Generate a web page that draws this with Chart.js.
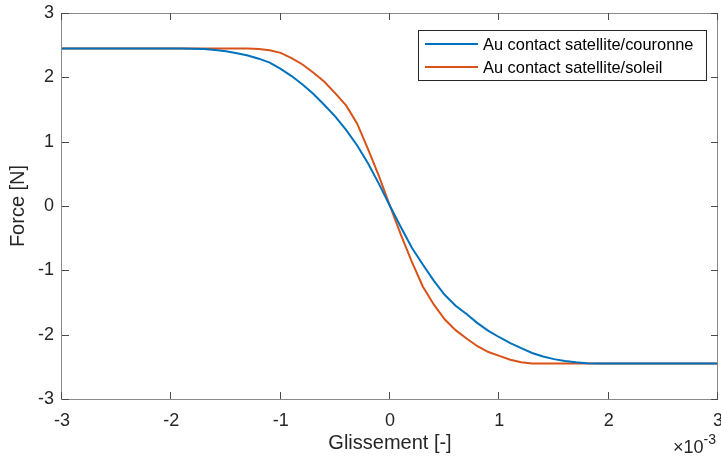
<!DOCTYPE html>
<html><head><meta charset="utf-8">
<script src="https://cdn.jsdelivr.net/npm/chart.js@4/dist/chart.umd.min.js"></script>
<style>html,body{margin:0;padding:0;background:#fff;overflow:hidden}#wrap{width:721px;height:456px}</style>
</head><body><div id="wrap"><canvas id="c" width="721" height="456"></canvas></div>
<script>
// Glissement, in units of 10^-3
const slip = [-3,-2.5,-2,-1.9,-1.8,-1.7,-1.6,-1.5,-1.4,-1.3,-1.2,-1.1,-1,-0.9,-0.8,-0.7,-0.6,-0.5,-0.4,-0.3,-0.2,-0.1,0,
  0.1,0.2,0.3,0.4,0.5,0.6,0.7,0.8,0.9,1,1.1,1.2,1.3,1.4,1.5,1.6,1.7,1.8,1.9,2,2.5,3];
const forceCouronne = [2.45,2.45,2.45,2.45,2.445,2.44,2.425,2.405,2.375,2.34,2.29,2.23,2.13,2.02,1.89,1.74,1.57,1.39,1.18,0.94,0.66,0.34,0,
  -0.33,-0.65,-0.91,-1.16,-1.38,-1.55,-1.68,-1.82,-1.94,-2.04,-2.13,-2.21,-2.285,-2.34,-2.38,-2.41,-2.43,-2.445,-2.45,-2.45,-2.45,-2.45];
const forceSoleil = [2.45,2.45,2.45,2.45,2.45,2.45,2.45,2.45,2.45,2.448,2.44,2.42,2.38,2.30,2.20,2.07,1.93,1.75,1.56,1.28,0.88,0.46,0,
  -0.45,-0.87,-1.25,-1.53,-1.76,-1.93,-2.06,-2.18,-2.27,-2.33,-2.39,-2.43,-2.45,-2.45,-2.45,-2.45,-2.45,-2.45,-2.45,-2.45,-2.45,-2.45];
const seriesLabels = ['Au contact satellite/couronne','Au contact satellite/soleil'];
const seriesColors = ['#0072BD','#D95319'];
const xTicks = [-3,-2,-1,0,1,2,3];
const yTicks = [-3,-2,-1,0,1,2,3];
const xTitle = 'Glissement [-]';
const yTitle = 'Force [N]';
const xExponent = '-3';

const FONT = '"Liberation Sans", Arial, Helvetica, sans-serif';
const AX = '#262626';

const matlabPlugin = {
  id: 'matlab',
  afterDraw(chart) {
    const ctx = chart.ctx, a = chart.chartArea;
    const xs = chart.scales.x, ys = chart.scales.y;
    ctx.save();
    // box
    ctx.strokeStyle = '#8a8a8a';
    ctx.lineWidth = 1;
    ctx.strokeRect(a.left - 0.5, a.top + 0.5, a.right - a.left, a.bottom - a.top);
    // inward ticks on all sides
    const tl = 7;
    ctx.strokeStyle = '#4a4a4a';
    ctx.beginPath();
    xTicks.forEach(v => {
      const px = Math.round(xs.getPixelForValue(v)) - 0.5;
      ctx.moveTo(px, a.bottom); ctx.lineTo(px, a.bottom - tl);
      ctx.moveTo(px, a.top); ctx.lineTo(px, a.top + tl);
    });
    yTicks.forEach(v => {
      const py = Math.round(ys.getPixelForValue(v)) + 0.5;
      ctx.moveTo(a.left, py); ctx.lineTo(a.left + tl, py);
      ctx.moveTo(a.right, py); ctx.lineTo(a.right - tl, py);
    });
    ctx.stroke();
    // legend
    const lw = 288, lh = 50;
    const lx = a.right - 12 - lw, ly = a.top + 17;
    ctx.fillStyle = '#fff';
    ctx.fillRect(lx, ly, lw, lh);
    ctx.strokeStyle = AX;
    ctx.strokeRect(lx + 0.5, ly + 0.5, lw, lh);
    ctx.font = '16.4px ' + FONT;
    ctx.textBaseline = 'middle';
    ctx.textAlign = 'left';
    chart.data.datasets.forEach((ds, i) => {
      const cy = ly + 14 + i * 23;
      ctx.strokeStyle = ds.borderColor;
      ctx.lineWidth = 2;
      ctx.beginPath(); ctx.moveTo(lx + 7, cy); ctx.lineTo(lx + 60, cy); ctx.stroke();
      ctx.fillStyle = '#000';
      ctx.fillText(ds.label, lx + 65, cy + 1);
    });
    // exponent
    ctx.fillStyle = AX;
    ctx.textBaseline = 'alphabetic';
    ctx.font = '18px ' + FONT;
    const base = '\u00d710';
    const bx = 673, by = 453;
    ctx.fillText(base, bx, by);
    const w = ctx.measureText(base).width;
    ctx.font = '14px ' + FONT;
    ctx.fillText(xExponent, bx + w, by - 9);
    ctx.restore();
  }
};

new Chart(document.getElementById('c'), {
  type: 'line',
  data: {
    datasets: [
      { label: seriesLabels[0], data: slip.map((x, i) => ({x, y: forceCouronne[i]})), borderColor: seriesColors[0], borderWidth: 2, pointRadius: 0, tension: 0, fill: false },
      { label: seriesLabels[1], data: slip.map((x, i) => ({x, y: forceSoleil[i]})), borderColor: seriesColors[1], borderWidth: 2, pointRadius: 0, tension: 0, fill: false }
    ]
  },
  options: {
    responsive: false, animation: false, devicePixelRatio: 1,
    layout: { padding: { left: 0, right: 3, top: 13, bottom: 0 } },
    plugins: { legend: { display: false }, tooltip: { enabled: false } },
    scales: {
      x: {
        type: 'linear', min: -3, max: 3,
        afterBuildTicks: s => { s.ticks = xTicks.map(v => ({ value: v })); },
        afterFit: s => { s.height = 57; s.paddingLeft = 0; s.paddingRight = 0; },
        grid: { display: false, drawTicks: false },
        border: { display: false },
        ticks: { autoSkip: false, maxRotation: 0, padding: 11, color: AX, font: { family: FONT, size: 18 }, callback: v => String(v) },
        title: { display: true, text: xTitle, color: AX, font: { family: FONT, size: 20 }, padding: { top: 0, bottom: 1 } }
      },
      y: {
        type: 'linear', min: -3, max: 3,
        afterBuildTicks: s => { s.ticks = yTicks.map(v => ({ value: v })); },
        afterFit: s => { s.width = 62; s.paddingTop = 0; s.paddingBottom = 0; },
        grid: { display: false, drawTicks: false },
        border: { display: false },
        ticks: { autoSkip: false, padding: 8, color: AX, font: { family: FONT, size: 18 }, callback: v => String(v) },
        title: { display: true, text: yTitle, color: AX, font: { family: FONT, size: 20 }, padding: { top: 6, bottom: 0 } }
      }
    }
  },
  plugins: [matlabPlugin]
});
</script>
</body></html>
